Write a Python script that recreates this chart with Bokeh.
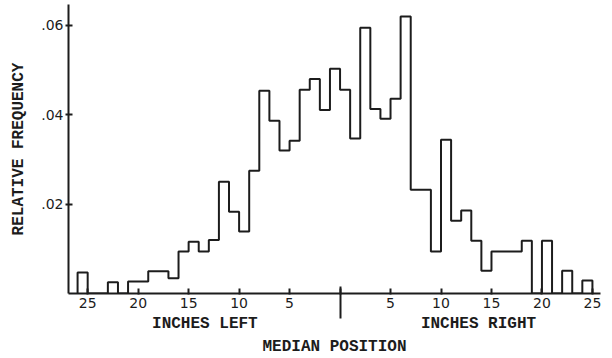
from bokeh.plotting import figure
from bokeh.models import Range1d, FixedTicker, LinearAxis
from bokeh.embed import file_html
from bokeh.resources import INLINE

# Histogram: 1-inch bins, left edges (negative = inches left, positive = inches right)
bin_left = list(range(-26, 25))
freq = [
    0.0047, 0.0, 0.0, 0.0025, 0.0, 0.0027, 0.0027, 0.0050, 0.0050, 0.0034,    # -26 .. -17
    0.0094, 0.0116, 0.0094, 0.0120, 0.0250, 0.0183, 0.0139, 0.0275, 0.0454, 0.0387,  # -16 .. -7
    0.0320, 0.0342, 0.0456, 0.0480, 0.0411, 0.0503,                                # -6 .. -1
    0.0456, 0.0347, 0.0595, 0.0413, 0.0391, 0.0436, 0.0620, 0.0232, 0.0232, 0.0094,  # 0 .. 9
    0.0344, 0.0163, 0.0186, 0.0118, 0.0051, 0.0094, 0.0094, 0.0094, 0.0118, 0.0,     # 10 .. 19
    0.0118, 0.0, 0.0051, 0.0, 0.0029,                                              # 20 .. 24
]

x_ticks = [-25, -20, -15, -10, -5, 0, 5, 10, 15, 20, 25]
x_tick_labels = ["25", "20", "15", "10", "5", "", "5", "10", "15", "20", "25"]
y_ticks = [0.02, 0.04, 0.06]
y_tick_labels = [".02", ".04", ".06"]

x_title = "MEDIAN POSITION"
y_title = "RELATIVE FREQUENCY"
left_label = "INCHES LEFT"
right_label = "INCHES RIGHT"

INK = "#1c1c1c"
MONO = "Liberation Mono"
NUM = "DejaVu Sans"
NBSP = "\u00a0"

p = figure(width=612, height=358, output_backend="svg", toolbar_location=None,
           x_range=Range1d(-26.9, 25.8), y_range=Range1d(0, 0.0647),
           min_border_left=68, min_border_right=12, min_border_top=4, min_border_bottom=62)
p.background_fill_color = "white"
p.border_fill_color = "white"
p.outline_line_color = None
p.xgrid.visible = False
p.ygrid.visible = False

# step outline of the histogram
xs = [bin_left[0]] + bin_left + [bin_left[-1] + 1]
ys = [0.0] + freq + [0.0]
p.step(xs, ys, mode="after", line_color=INK, line_width=2)

# x axis with the inch numbers
xa = p.xaxis[0]
xa.ticker = FixedTicker(ticks=x_ticks)
xa.major_label_overrides = {t: s for t, s in zip(x_ticks, x_tick_labels)}
xa.major_tick_in = 5
xa.major_tick_out = 1
xa.minor_tick_in = 0
xa.minor_tick_out = 0
xa.axis_line_width = 2
xa.axis_line_color = INK
xa.major_tick_line_color = INK
xa.major_tick_line_width = 2
xa.major_label_text_font = NUM
xa.major_label_text_font_size = "14px"
xa.major_label_text_color = INK
xa.major_label_standoff = 3

# second axis: long centre tick and the left/right sub-labels
xa2 = LinearAxis(ticker=FixedTicker(ticks=[0]), major_label_overrides={0: ""})
xa2.axis_line_color = None
xa2.minor_tick_line_color = None
xa2.major_tick_in = 24
xa2.major_tick_out = 8
xa2.major_tick_line_color = INK
xa2.major_tick_line_width = 2
xa2.major_label_standoff = 0
xa2.major_label_text_font_size = "1px"
xa2.axis_label = NBSP * 2 + left_label + NBSP * 17 + right_label
xa2.axis_label_text_font = MONO
xa2.axis_label_text_font_style = "bold"
xa2.axis_label_text_font_size = "16px"
xa2.axis_label_text_color = INK
xa2.axis_label_standoff = -4
p.add_layout(xa2, "below")

# third axis: overall title
xa3 = LinearAxis(ticker=FixedTicker(ticks=[]))
xa3.axis_line_color = None
xa3.major_tick_line_color = None
xa3.minor_tick_line_color = None
xa3.axis_label = x_title
xa3.axis_label_text_font = MONO
xa3.axis_label_text_font_style = "bold"
xa3.axis_label_text_font_size = "16px"
xa3.axis_label_text_color = INK
xa3.axis_label_standoff = 2
p.add_layout(xa3, "below")

# y axis
ya = p.yaxis[0]
ya.ticker = FixedTicker(ticks=y_ticks)
ya.major_label_overrides = {t: s for t, s in zip(y_ticks, y_tick_labels)}
ya.major_tick_in = 4
ya.major_tick_out = 3
ya.minor_tick_in = 0
ya.minor_tick_out = 0
ya.axis_line_width = 2
ya.axis_line_color = INK
ya.major_tick_line_color = INK
ya.major_tick_line_width = 2
ya.major_label_text_font = NUM
ya.major_label_text_font_size = "14px"
ya.major_label_text_color = INK
ya.major_label_standoff = 2
ya.axis_label = y_title
ya.axis_label_text_font = MONO
ya.axis_label_text_font_style = "bold"
ya.axis_label_text_font_size = "16px"
ya.axis_label_text_color = INK
ya.axis_label_standoff = 10

open("out.html", "w").write(file_html(p, INLINE))
